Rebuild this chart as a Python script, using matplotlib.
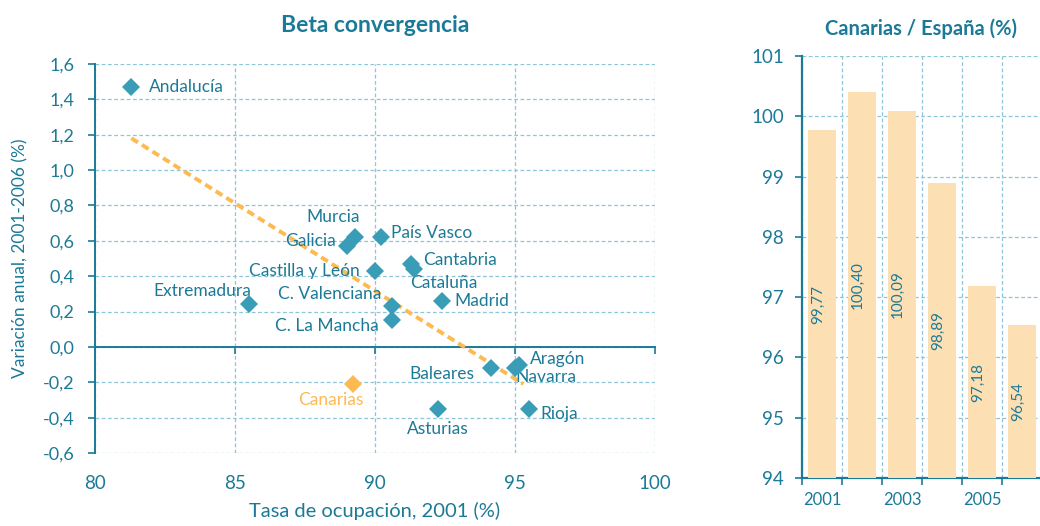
import matplotlib.pyplot as plt
import numpy as np
from matplotlib.ticker import FuncFormatter, FixedLocator

plt.rcParams["font.family"] = ["Lato", "DejaVu Sans"]

TEAL = "#1B7A97"
MARK = "#3A9DB8"
ORANGE = "#FDBA52"
GRID = "#8EC6D9"
BAR = "#FDDFB4"

# --- scatter data: Tasa de ocupacion 2001 vs variacion anual 2001-2006
regions = ["Andalucía", "Murcia", "Galicia", "País Vasco", "Castilla y León",
           "Cantabria", "Cataluña", "Extremadura", "C. Valenciana", "Madrid",
           "C. La Mancha", "Aragón", "Navarra", "Baleares", "Asturias", "Rioja"]
ocupacion = [81.3, 89.3, 89.0, 90.2, 90.0, 91.3, 91.4, 85.5, 90.6, 92.4,
             90.6, 95.15, 95.0, 94.15, 92.25, 95.5]
variacion = [1.47, 0.62, 0.57, 0.62, 0.43, 0.47, 0.44, 0.24, 0.23, 0.26,
             0.15, -0.10, -0.12, -0.12, -0.35, -0.35]
canarias_x = 89.2
canarias_y = -0.21
trend_x = [81.3, 95.3]
trend_y = [1.18, -0.21]

# --- bars: Canarias / Espana
years = [2001, 2002, 2003, 2004, 2005, 2006]
ratio = [99.77, 100.40, 100.09, 98.89, 97.18, 96.54]

# label offsets in pixels (dx, dy, ha)
offsets = {
    "Andalucía": (18, 0, "left"), "Murcia": (4, 20, "right"),
    "Galicia": (-11, 5, "right"), "País Vasco": (10, 4, "left"),
    "Castilla y León": (-15, 0, "right"), "Cantabria": (12, 4, "left"),
    "Cataluña": (-4, -14, "left"), "Extremadura": (2, 13, "right"),
    "C. Valenciana": (-10, 12, "right"), "Madrid": (12, 0, "left"),
    "C. La Mancha": (-13, -6, "right"), "Aragón": (11, 6, "left"),
    "Navarra": (0, -9, "left"), "Baleares": (-17, -6, "right"),
    "Asturias": (0, -20, "center"), "Rioja": (11, -5, "left"),
}


def comma(fmt):
    return FuncFormatter(lambda v, p: format(v, fmt).replace(".", ","))


fig = plt.figure(figsize=(10.4, 5.26), dpi=100)

# ---------------- left: beta convergencia
ax = fig.add_axes([95 / 1040, 1 - 453 / 526, 560 / 1040, 389 / 526])
ax.set_xlim(80, 100)
ax.set_ylim(-0.6, 1.6)
xt = np.arange(80, 101, 5)
ax.set_xticks(xt)
ax.set_yticks(np.arange(-0.6, 1.61, 0.2))
ax.yaxis.set_major_formatter(comma(".1f"))
ax.grid(True, color=GRID, linestyle=(0, (3, 2)), linewidth=0.9)
ax.set_axisbelow(True)
for s in ["top", "right"]:
    ax.spines[s].set_visible(False)
# the x axis line crosses at zero, labels stay at the bottom
ax.spines["bottom"].set_position(("data", 0))
for s in ["left", "bottom"]:
    ax.spines[s].set_color(TEAL)
    ax.spines[s].set_linewidth(1.4)
ax.tick_params(axis="y", colors=TEAL, labelsize=13, length=5, width=1.2, pad=10)
ax.tick_params(axis="x", colors=TEAL, length=5, width=1.2, labelbottom=False)
lab = ax.secondary_xaxis("bottom")
lab.set_xticks(xt)
lab.spines["bottom"].set_visible(False)
lab.tick_params(axis="x", colors=TEAL, labelsize=13.5, length=0, pad=16)

ax.plot(trend_x, trend_y, color=ORANGE, linewidth=2.8, dashes=(2.0, 1.2), zorder=3)
ax.plot(ocupacion, variacion, "D", color=MARK, markersize=9.5, zorder=4,
        markeredgewidth=0)
ax.plot([canarias_x], [canarias_y], "D", color=ORANGE, markersize=9.5, zorder=4,
        markeredgewidth=0)

for name, x, y in zip(regions, ocupacion, variacion):
    dx, dy, ha = offsets[name]
    ax.annotate(name, (x, y), xytext=(dx, dy), textcoords="offset pixels",
                ha=ha, va="center", color=TEAL, fontsize=12.5)
ax.annotate("Canarias", (canarias_x, canarias_y), xytext=(11, -16),
            textcoords="offset pixels", ha="right", va="center",
            color=ORANGE, fontsize=12.5)

lab.set_xlabel("Tasa de ocupación, 2001 (%)", color=TEAL, fontsize=14.5, labelpad=7)
ax.set_ylabel("Variación anual, 2001-2006 (%)", color=TEAL, fontsize=12.5, labelpad=10)
ax.set_title("Beta convergencia", color=TEAL, fontsize=16.5, fontweight="bold", pad=23)

# ---------------- right: Canarias / Espana
bx = fig.add_axes([802 / 1040, 1 - 478 / 526, 238 / 1040, 422 / 526])
pos = np.arange(len(years))
bx.bar(pos, [r - 94 for r in ratio], bottom=94, width=0.72, color=BAR, zorder=3)
for p, r in zip(pos, ratio):
    bx.text(p - 0.1, (94 + r) / 2, format(r, ".2f").replace(".", ","),
            rotation=90, ha="center", va="center", color=TEAL, fontsize=11,
            zorder=4)
bx.set_xlim(-0.5, 5.45)
bx.set_ylim(94, 101)
bx.set_yticks(np.arange(94, 102, 1))
bx.xaxis.set_major_locator(FixedLocator(pos[::2]))
bx.set_xticklabels([str(y) for y in years[::2]])
bx.xaxis.set_minor_locator(FixedLocator(np.arange(-0.5, 5.5, 1)))
bx.grid(True, axis="y", color=GRID, linestyle=(0, (3, 2)), linewidth=0.9, zorder=0)
bx.grid(True, axis="x", which="minor", color=GRID, linestyle=(0, (3, 2)),
        linewidth=0.9, zorder=0)
bx.set_axisbelow(True)
for s in ["top", "right"]:
    bx.spines[s].set_visible(False)
for s in ["left", "bottom"]:
    bx.spines[s].set_color(TEAL)
    bx.spines[s].set_linewidth(1.6)
bx.tick_params(axis="y", colors=TEAL, labelsize=13.5, length=5, width=1.2, pad=8)
bx.tick_params(axis="x", which="major", colors=TEAL, labelsize=12, length=0, pad=10)
bx.tick_params(axis="x", which="minor", colors=TEAL, length=5, width=1.2)
bx.set_title("Canarias / España (%)", color=TEAL, fontsize=14.5, fontweight="bold",
             pad=15)

fig.savefig("out.png", dpi=100)
